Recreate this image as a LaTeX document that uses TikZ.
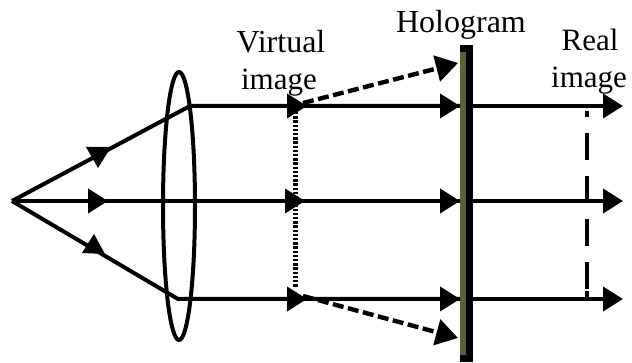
\documentclass[tikz,border=0pt]{standalone}
\usepackage{fontspec}
\setmainfont{Liberation Serif}
\usetikzlibrary{arrows.meta}
\definecolor{holo}{RGB}{92,96,54}
\tikzset{
  ray/.style={line width=4pt,line cap=butt},
  raytip/.style={line width=4pt,-{Triangle[length=20pt,width=24pt]}},
  dashray/.style={line width=4.4pt,dash pattern=on 11pt off 4.5pt,-{Triangle[length=22pt,width=26pt]}},
  lbl/.style={inner sep=0pt,anchor=base},
  head/.style={fill=black,draw=none}
}
\begin{document}
\begin{tikzpicture}[x=1pt,y=-1pt]
\useasboundingbox (0,0) rectangle (632,363);
% hologram
\fill[holo] (460,45) rectangle (467,362);
\fill[black] (466,45) rectangle (472.5,362);
\fill[black] (460,45) rectangle (472.5,52);
\fill[black] (460,355) rectangle (472.5,362);
% named points
\coordinate (src) at (12,201);
\coordinate (up) at (190,106);
\coordinate (lo) at (178,299);
\coordinate (v1) at (307,106);
\coordinate (v2) at (305,201);
\coordinate (v3) at (307,299);
\coordinate (h1) at (460,106);
\coordinate (h2) at (460,201);
\coordinate (h3) at (460,299);
\coordinate (e1) at (623,106);
\coordinate (e2) at (623,201);
\coordinate (e3) at (623,299);
\coordinate (m2) at (108,201);
\coordinate (du) at (458,63);
\coordinate (dl) at (458,338);
\coordinate (d0) at (303,103);
\coordinate (d1) at (303,296);
\coordinate (vt) at (295,112);
\coordinate (vb) at (295,288);
\coordinate (rt) at (587,111);
\coordinate (rm) at (587,291);
\coordinate (rb) at (587,299);
% lens
\draw[line width=4pt] (179,206) ellipse [x radius=16pt,y radius=134pt];
% rays
\draw[ray,line join=round] (src) -- (up) -- (h1);
\draw[ray,line join=round] (src) -- (lo) -- (h3);
\draw[ray] (src) -- (h2);
\draw[raytip] (m2) ++(-5,0) -- (m2);
\draw[raytip] (v2) ++(-5,0) -- (v2);
\draw[raytip] (h2) ++(-5,0) -- (h2);
\draw[raytip] (v1) ++(-5,0) -- (v1);
\draw[raytip] (h1) ++(-5,0) -- (h1);
\draw[raytip] (v3) ++(-5,0) -- (v3);
\draw[raytip] (h3) ++(-5,0) -- (h3);
\draw[raytip] (473,106) -- (e1);
\draw[raytip] (473,201) -- (e2);
\draw[raytip] (473,299) -- (e3);
% oblique heads on the diverging rays
\fill[head] (86,147) -- (111,147) -- (98,168) -- cycle;
\fill[head] (82,253) -- (105,254) -- (94,234) -- cycle;
% dashed rays
\draw[dashray] (d0) -- (du);
\draw[dashray] (d1) -- (dl);
% image planes
\draw[line width=5pt,dash pattern=on 2.4pt off 1.8pt] (vt) -- (vb);
\draw[line width=4.4pt,dash pattern=on 27pt off 16pt,dash phase=21pt] (rt) -- (rm);
\draw[line width=4.4pt] (rm) -- (rb);
% labels
\node[lbl,font=\fontsize{32}{32}\selectfont] (t1) at (281,53) {Virtual};
\node[lbl,font=\fontsize{31}{31}\selectfont] (t2) at (279,90) {image};
\node[lbl,font=\fontsize{32}{32}\selectfont] (t3) at (461,33) {Hologram};
\node[lbl,font=\fontsize{31}{31}\selectfont] (t4) at (590,51) {Real};
\node[lbl,font=\fontsize{31}{31}\selectfont] (t5) at (589,88) {image};
\end{tikzpicture}
\end{document}
